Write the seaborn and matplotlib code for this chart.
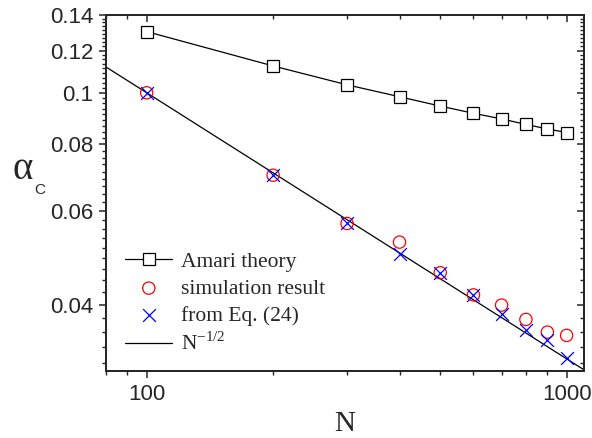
import numpy as np
import pandas as pd
import seaborn as sns
import matplotlib.pyplot as plt
from matplotlib.ticker import MultipleLocator, FuncFormatter, NullFormatter, LogLocator

# values
n_vals = [100, 200, 300, 400, 500, 600, 700, 800, 900, 1000]
amari = [0.1303, 0.1123, 0.1035, 0.0983, 0.0944, 0.0915, 0.0893, 0.0872, 0.0855, 0.0842]
simulation = [0.1000, 0.0700, 0.0568, 0.0524, 0.0459, 0.0417, 0.0399, 0.0375, 0.0355, 0.0350]
from_eq24 = [0.1000, 0.0700, 0.0568, 0.0498, 0.0459, 0.0417, 0.0384, 0.0359, 0.0343, 0.0318]
n_line = [70, 1200]

df = pd.DataFrame({"N": n_vals, "amari": amari, "sim": simulation, "eq": from_eq24})
df_line = pd.DataFrame({"N": n_line})
df_line["fit"] = df_line["N"] ** -0.5

sns.set_style("ticks")
plt.rcParams["font.family"] = ["Liberation Sans", "DejaVu Sans"]
plt.rcParams["mathtext.fontset"] = "custom"
plt.rcParams["mathtext.rm"] = "Liberation Serif"

fig = plt.figure(figsize=(5.92, 4.38), dpi=100)
ax = fig.add_axes([106 / 592, 1 - 371 / 438, 478 / 592, 356 / 438])

sns.lineplot(data=df, x="N", y="amari", ax=ax, color="black", lw=0.9, marker="s",
             markersize=8, markerfacecolor="white", markeredgecolor="black",
             markeredgewidth=0.9, label="Amari theory")
sns.scatterplot(data=df, x="N", y="sim", ax=ax, marker="o", s=78, facecolor="none",
                edgecolor="red", linewidth=0.9, label="simulation result", zorder=3)
sns.scatterplot(data=df, x="N", y="eq", ax=ax, marker="x", s=85, color="blue",
                linewidth=0.9, label="from Eq. (24)", zorder=4)
sns.lineplot(data=df_line, x="N", y="fit", ax=ax, color="black", lw=0.9,
             label=r"N$^{\mathrm{-1/2}}$")

lims_x = (80, 1100)
lims_y = (0.03, 0.14)


def setup(axis_x, axis_y):
    axis_x.set_xscale("log")
    axis_y.set_yscale("log")
    axis_x.set_xlim(*lims_x)
    axis_y.set_ylim(*lims_y)
    axis_x.xaxis.set_major_locator(LogLocator(base=10))
    axis_x.xaxis.set_minor_locator(LogLocator(base=10, subs=np.arange(2, 10)))
    axis_x.xaxis.set_major_formatter(FuncFormatter(lambda v, p: f"{v:g}"))
    axis_x.xaxis.set_minor_formatter(NullFormatter())
    axis_y.yaxis.set_major_locator(MultipleLocator(0.02))
    axis_y.yaxis.set_minor_locator(MultipleLocator(0.02 / 9))
    axis_y.yaxis.set_major_formatter(FuncFormatter(lambda v, p: f"{v:g}"))
    axis_y.yaxis.set_minor_formatter(NullFormatter())


setup(ax, ax)
ax.tick_params(which="major", direction="out", length=5, width=1.1, labelsize=16, pad=4)
ax.tick_params(which="minor", direction="out", length=2.6, width=1.0)
for sp in ax.spines.values():
    sp.set_linewidth(1.2)

# mirrored axes with inward ticks
ax_top = ax.twiny()
setup(ax_top, ax)
ax_top.tick_params(which="major", direction="in", length=5, width=1.1, labeltop=False)
ax_top.tick_params(which="minor", direction="in", length=3, width=1.0)
ax_right = ax.twinx()
setup(ax, ax_right)
ax_right.tick_params(which="major", direction="in", length=5, width=1.1, labelright=False)
ax_right.tick_params(which="minor", direction="in", length=2.6, width=1.0)
ax_right.set_ylabel("")
for a in (ax_top, ax_right):
    for sp in a.spines.values():
        sp.set_linewidth(1.2)

ax.set_xlabel("")
ax.set_ylabel("")
fig.text(345 / 592, 1 - 424 / 438, "N", family="Liberation Serif", fontsize=21,
         ha="center", va="center")
fig.text(23 / 592, 1 - 170 / 438, "α", family="Liberation Serif", fontsize=28,
         ha="center", va="center")
fig.text(40 / 592, 1 - 190 / 438, "C", family="Liberation Sans", fontsize=11,
         ha="center", va="center")

ax.legend(loc="upper left", bbox_to_anchor=(0.04, 0.335), frameon=False,
          prop={"family": "Liberation Serif", "size": 15.5}, handlelength=2.2,
          handletextpad=0.4, labelspacing=0.32, borderpad=0, borderaxespad=0)

plt.savefig("out.png", dpi=100)
